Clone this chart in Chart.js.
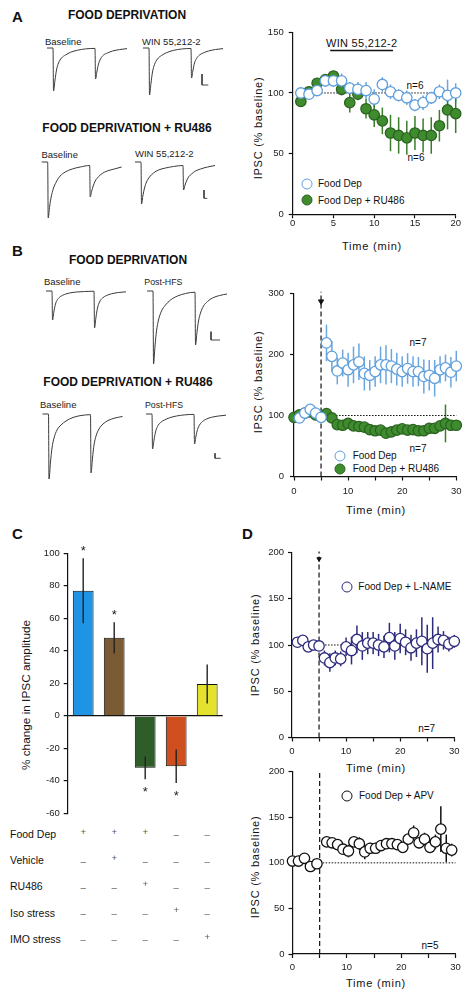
<!DOCTYPE html>
<html lang="en">
<head>
<meta charset="UTF-8">
<meta name="viewport" content="width=device-width, initial-scale=1.0">
<title>IPSC plasticity after food deprivation</title>
<script src="https://cdn.jsdelivr.net/npm/chart.js"></script>
<style>
    body { margin: 0; background: #fff; color: #111; font-family: "Liberation Sans", Arial, Helvetica, sans-serif; }
    #fig { position: relative; width: 474px; height: 999px; overflow: hidden; }
    #fig canvas { position: absolute; }
    .t { position: absolute; white-space: nowrap; line-height: 1; font-size: 10px; }
    .c { transform: translate(-50%, -50%); }
    .l { transform: translate(0, -50%); }
    .r { transform: translate(-50%, -50%) rotate(-90deg); font-size: 11px; letter-spacing: 0.75px; }
    .panel { font-size: 15px; font-weight: bold; }
    .head { font-size: 12px; font-weight: bold; }
    .sweep { font-size: 9.5px; color: #222; }
    .xt { font-size: 11px; letter-spacing: 0.8px; }
    .dot { position: absolute; width: 11px; height: 11px; box-sizing: border-box; border: 1.3px solid; border-radius: 50%; background: #fff; transform: translate(-50%, -50%); }
    .row { font-size: 10.5px; }
    .sign { font-size: 9.5px; color: #555; }
</style>
</head>
<body>
<div id="fig">
    <!-- panel A -->
    <div class="t panel l" style="left:12px;top:16px">A</div>
    <div class="t head c" style="left:127px;top:15px">FOOD DEPRIVATION</div>
    <div class="t sweep l" style="left:45px;top:42px">Baseline</div>
    <div class="t sweep l" style="left:142px;top:41.5px">WIN 55,212-2</div>
    <div class="t head c" style="left:127px;top:128px">FOOD DEPRIVATION + RU486</div>
    <div class="t sweep l" style="left:41.5px;top:155px">Baseline</div>
    <div class="t sweep l" style="left:135px;top:154px">WIN 55,212-2</div>

    <div class="t c" style="left:361.7px;top:42.7px;font-size:11px;letter-spacing:0.3px">WIN 55,212-2</div>
    <div class="t c" style="left:415px;top:86px">n=6</div>
    <div class="t c" style="left:416px;top:158px">n=6</div>
    <span class="dot" style="left:306.7px;top:183.7px;border-color:#5f9fdc"></span>
    <span class="dot" style="left:306.7px;top:200px;border-color:#2b6320;background:#3f8c2f"></span>
    <div class="t l" style="left:318px;top:184px">Food Dep</div>
    <div class="t l" style="left:318px;top:200.5px">Food Dep + RU486</div>
    <div class="t xt c" style="left:372px;top:246px">Time (min)</div>
    <div class="t r" style="left:257.7px;top:128px">IPSC (% baseline)</div>

    <!-- panel B -->
    <div class="t panel l" style="left:12px;top:250px">B</div>
    <div class="t head c" style="left:128px;top:260px">FOOD DEPRIVATION</div>
    <div class="t sweep l" style="left:44px;top:282.3px">Baseline</div>
    <div class="t sweep l" style="left:144.3px;top:282.3px;font-size:8.8px">Post-HFS</div>
    <div class="t head c" style="left:128px;top:381.7px">FOOD DEPRIVATION + RU486</div>
    <div class="t sweep l" style="left:40px;top:405px">Baseline</div>
    <div class="t sweep l" style="left:145px;top:405px;font-size:8.8px">Post-HFS</div>

    <div class="t c" style="left:418px;top:342.7px">n=7</div>
    <div class="t c" style="left:418px;top:449px">n=7</div>
    <span class="dot" style="left:340px;top:456px;border-color:#5f9fdc"></span>
    <span class="dot" style="left:340px;top:469.3px;border-color:#2b6320;background:#3f8c2f"></span>
    <div class="t l" style="left:352.7px;top:456px">Food Dep</div>
    <div class="t l" style="left:352.7px;top:469.3px">Food Dep + RU486</div>
    <div class="t xt c" style="left:376px;top:510px">Time (min)</div>
    <div class="t r" style="left:258.3px;top:382px">IPSC (% baseline)</div>

    <!-- panel C -->
    <div class="t panel l" style="left:12px;top:533px">C</div>
    <div class="t c" style="left:26.7px;top:695px;font-size:11.8px;transform:translate(-50%,-50%) rotate(-90deg)">% change in IPSC amplitude</div>

    <!-- panel D -->
    <div class="t panel l" style="left:242px;top:533px">D</div>
    <span class="dot" style="left:347.3px;top:586.7px;border-color:#2d2b7e"></span>
    <div class="t l" style="left:358.3px;top:586.7px">Food Dep + L-NAME</div>
    <div class="t c" style="left:426.7px;top:729.3px">n=7</div>
    <div class="t xt c" style="left:376px;top:768px">Time (min)</div>
    <div class="t r" style="left:255px;top:645px">IPSC (% baseline)</div>
    <span class="dot" style="left:347.3px;top:796px;border-color:#111"></span>
    <div class="t l" style="left:359px;top:796px">Food Dep + APV</div>
    <div class="t c" style="left:430px;top:946px">n=5</div>
    <div class="t xt c" style="left:376px;top:982.7px">Time (min)</div>
    <div class="t r" style="left:255px;top:867px">IPSC (% baseline)</div>

    <canvas id="trA1" width="194" height="62" style="left:36px;top:40px"></canvas>
    <canvas id="trA2" width="194" height="74" style="left:36px;top:154px"></canvas>
    <canvas id="trB1" width="194" height="89" style="left:36px;top:283px"></canvas>
    <canvas id="trB2" width="194" height="81" style="left:36px;top:406px"></canvas>
    <canvas id="chA" width="230" height="210" style="left:240px;top:20px"></canvas>
    <canvas id="chB" width="230" height="225" style="left:240px;top:280px"></canvas>
    <canvas id="chC" width="235" height="285" style="left:0px;top:540px"></canvas>
    <canvas id="chD1" width="230" height="225" style="left:240px;top:540px"></canvas>
    <canvas id="chD2" width="230" height="225" style="left:240px;top:760px"></canvas>
</div>

<script>
    // ---------- data ----------

    // example sweeps: time (ms from sweep start) and current (pA, baseline = 0)
    const sweepT = [0, 6, 6.5, 8, 9.5, 11.5, 14.5, 18.5, 23.5, 30.5, 38.5, 48, 48.5, 50, 51.5, 53.5, 56.5, 60.5, 65.5, 72.5, 80];
    const aFdBase = [0, 0, -43, -32, -22, -15, -10, -7, -4.3, -2.2, -0.9, -0.4, -31, -23, -16, -11, -7, -5, -3, -1.6, -0.6];
    const aFdWin = [0, 0, -47, -35, -24, -16.5, -11, -7.5, -4.7, -2.4, -1, -0.5, -30, -22, -15, -10.5, -7, -4.8, -3, -1.5, -0.6];
    const aRuBase = [0, 0, -56, -44, -35, -27, -20, -14, -10, -7, -5, -3.5, -35, -29, -24, -19, -15, -11.5, -9, -7, -5];
    const aRuWin = [0, 0, -42, -33, -26, -20, -15, -11, -8, -6, -4.5, -3.5, -28, -23, -19, -15, -12, -9, -7, -5, -3.5];
    const bFdBase = [0, 0, -29, -20, -13, -8.5, -5.5, -3.5, -2, -1, -0.5, -0.2, -37, -26, -17, -11, -7, -4.5, -2.8, -1.5, -0.8];
    const bFdHfs = [0, 0, -73, -55, -40, -29, -20, -14, -9, -5, -2.5, -1.2, -54, -41, -30, -22, -15, -10.5, -7, -4.5, -3];
    const bRuBase = [0, 0, -65, -48, -34, -24, -16, -11, -7, -3.5, -1.5, -0.7, -59, -44, -31, -22, -15, -10, -6.5, -4, -2.5];
    const bRuHfs = [0, 0, -35, -26, -18, -12.5, -8.5, -6, -3.8, -2, -0.9, -0.4, -30, -22, -15.5, -11, -7.5, -5, -3.3, -2, -1.2];

    // panel A: WIN 55,212-2 (min, % baseline)
    const timeA = [1, 2, 3, 4, 5, 6, 7, 8, 9, 10, 11, 12, 13, 14, 15, 16, 17, 18, 19, 20];
    const fdA = [100, 99, 102, 110, 110, 110, 104, 103, 102, 95, 107, 101, 98, 96, 90, 92, 96, 101, 98, 100];
    const fdAErr = [3, 4, 4, 5, 5, 6, 5, 6, 7, 8, 6, 6, 5, 6, 5, 6, 5, 6, 13, 8];
    const ruA = [93, 101, 108, 111, 114, 103, 92, 99, 87, 82, 77, 67, 65, 63, 67, 65, 65, 73, 86, 83];
    const ruAErr = [3, 4, 4, 4, 3, 5, 8, 5, 8, 10, 11, 15, 15, 14, 14, 14, 15, 13, 16, 16];
    const winA = [4.6, 12.3];

    // panel B: HFS at 5 min
    const timeBfd = [1, 2, 3, 4, 5, 6, 7, 8, 9, 10, 11, 12, 13, 14, 15, 16, 17, 18, 19, 20, 21, 22, 23, 24, 25, 26, 27, 28, 29, 30];
    const fdB = [96, 104, 110, 104, 97, 219, 197, 173, 186, 175, 183, 188, 169, 166, 172, 183, 183, 181, 176, 172, 177, 172, 172, 164, 166, 161, 175, 178, 171, 181];
    const fdBErr = [4, 4, 5, 4, 4, 30, 25, 22, 22, 28, 30, 30, 28, 25, 25, 30, 32, 28, 27, 25, 25, 25, 24, 28, 25, 30, 22, 22, 25, 25];
    const timeBru = [0, 1, 2, 3, 4, 5, 6, 7, 8, 9, 10, 11, 12, 13, 14, 15, 16, 17, 18, 19, 20, 21, 22, 23, 24, 25, 26, 27, 28, 29, 30];
    const ruB = [97, 101, 104, 106, 101, 98, 103, 96, 85, 84, 87, 83, 82, 81, 77, 75, 76, 71, 73, 76, 78, 76, 77, 75, 75, 79, 79, 83, 87, 84, 84];
    const ruBErr = [3, 3, 3, 3, 3, 3, 5, 5, 5, 6, 6, 6, 5, 6, 6, 7, 6, 6, 7, 8, 6, 7, 6, 7, 8, 7, 7, 8, 31, 8, 7];

    // panel C: % change in IPSC amplitude
    const groupsC = ['Food Dep', 'Food Dep + vehicle', 'Food Dep + RU486', 'Iso stress', 'IMO stress'];
    const changeC = [77, 48, -32, -31, 19.5];
    const changeCErr = [20, 9.6, 7, 10.3, 12];
    const sigC = [true, true, true, true, false];
    const factorsC = ['Food Dep', 'Vehicle', 'RU486', 'Iso stress', 'IMO stress'];
    const designC = [[1, 1, 1, 0, 0], [0, 1, 0, 0, 0], [0, 0, 1, 0, 0], [0, 0, 0, 1, 0], [0, 0, 0, 0, 1]];

    // panel D
    const timeD1 = [1, 2, 3, 4, 5, 6, 7, 8, 9, 10, 11, 12, 13, 14, 15, 16, 17, 18, 19, 20, 21, 22, 23, 24, 25, 26, 27, 28, 29, 30];
    const lnameD = [103, 105, 98, 100, 99, 86, 81, 86, 85, 98, 94, 106, 99, 102, 102, 100, 98, 108, 99, 107, 103, 97, 102, 104, 96, 102, 106, 105, 101, 104];
    const lnameDErr = [5, 5, 5, 5, 5, 8, 10, 8, 8, 10, 15, 15, 15, 12, 12, 12, 12, 16, 15, 16, 14, 14, 15, 26, 26, 28, 14, 10, 8, 7];
    const timeD2 = [0, 1.1, 2.2, 3.3, 4.5, 6.3, 7.3, 8.3, 9.3, 10.3, 11.3, 12.3, 13.3, 14.3, 15.3, 16.3, 17.3, 18.3, 19.3, 20.3, 21.3, 22.3, 23.3, 24.3, 25.3, 26.3, 27.3, 28.3, 29.3];
    const apvD = [102, 102, 105, 96, 99, 123, 122, 120, 115, 113, 123, 121, 112, 116, 116, 119, 121, 121, 120, 117, 126, 133, 122, 126, 117, 123, 137, 116, 114];
    const apvDErr = [4, 4, 4, 5, 4, 5, 5, 5, 5, 7, 5, 7, 8, 6, 6, 5, 5, 5, 6, 6, 5, 8, 6, 7, 6, 8, 25, 15, 7];

    const stimTime = 5;     // HFS onset (min)
    const baseline = 100;   // % baseline reference

    // ---------- styles ----------
    const OPEN_BLUE = { line: '#5f9fdc', fill: '#ffffff', err: '#6aa6df' };
    const GREEN = { line: '#2b6320', fill: '#3f8c2f', err: '#3a7d2a' };
    const PURPLE = { line: '#2d2b7e', fill: '#ffffff', err: '#2d2b7e' };
    const BLACK = { line: '#111111', fill: '#ffffff', err: '#111111' };

    Chart.defaults.font.family = '"Liberation Sans", Arial, Helvetica, sans-serif';
    Chart.defaults.font.size = 9.5;
    Chart.defaults.color = '#222';

    // error bars (and significance stars) drawn through the y scale
    const errorBars = {
        id: 'errorBars',
        beforeDatasetsDraw(chart, args, opts) { if (!opts.front) drawErrors(chart); },
        afterDatasetsDraw(chart, args, opts) { if (opts.front) drawErrors(chart); }
    };
    function drawErrors(chart) {
        const ctx = chart.ctx;
        const ys = chart.scales.y;
        chart.data.datasets.forEach((ds, di) => {
            if (!ds.err) return;
            const meta = chart.getDatasetMeta(di);
            ctx.save();
            ctx.strokeStyle = ds.errColor;
            ctx.lineWidth = ds.errWidth || 1.5;
            meta.data.forEach((el, i) => {
                const raw = ds.data[i];
                const v = typeof raw === 'object' ? raw.y : raw;
                const yTop = ys.getPixelForValue(v + ds.err[i]);
                const yBot = ys.getPixelForValue(v - ds.err[i]);
                ctx.beginPath();
                ctx.moveTo(el.x, yTop);
                ctx.lineTo(el.x, yBot);
                ctx.stroke();
                if (ds.stars && ds.stars[i]) {
                    ctx.fillStyle = '#222';
                    ctx.font = '13px "Liberation Sans", Arial, sans-serif';
                    ctx.textAlign = 'center';
                    ctx.textBaseline = 'alphabetic';
                    const cy = v >= 0 ? yTop - 10 : yBot + 10;
                    ctx.fillText('*', el.x, cy + 7);
                }
            });
            ctx.restore();
        });
    }
    Chart.register(errorBars);

    function pts(xs, ys) { return xs.map((x, i) => ({ x: x, y: ys[i] })); }

    function series(xs, ys, err, st, order) {
        return {
            data: pts(xs, ys), err: err, errColor: st.err, showLine: false, clip: false, order: order,
            pointRadius: 5.2, pointBorderWidth: 1.3, pointBackgroundColor: st.fill, pointBorderColor: st.line
        };
    }

    function refLine(points, dash, width, extra) {
        return Object.assign({
            data: points, showLine: true, pointRadius: 0, borderColor: '#111', borderWidth: width,
            borderDash: dash, clip: false, order: 10
        }, extra || {});
    }

    function axis(s, isX, box) {
        return {
            type: 'linear', min: s.min, max: s.max,
            border: { color: '#111', width: 1.2 },
            grid: { drawOnChartArea: false, drawTicks: true, tickLength: 4, tickColor: '#111', tickWidth: 1.2 },
            ticks: { stepSize: s.step, autoSkip: false, maxRotation: 0, color: '#222', padding: s.pad, callback: s.label || (v => v) },
            afterFit: isX ? (sc => { sc.height = box.bottom; }) : (sc => { sc.width = box.left; })
        };
    }

    function plot(id, box, xs, ys, datasets) {
        return new Chart(document.getElementById(id), {
            type: 'scatter',
            data: { datasets: datasets },
            options: {
                responsive: false, animation: false, events: [],
                layout: { padding: { left: 0, top: box.top, right: box.right, bottom: 0 } },
                plugins: { legend: { display: false }, tooltip: { enabled: false }, errorBars: { front: false } },
                scales: { x: axis(xs, true, box), y: axis(ys, false, box) }
            }
        });
    }

    const tensOnly = v => (v % 10 === 0 ? v : '');

    // ---------- example sweeps ----------
    function traceChart(id, yMax, yMin, sweeps, bar) {
        const cv = document.getElementById(id);
        const ds = sweeps.map(s => ({
            data: sweepT.map((t, k) => ({ x: s[0] + t, y: s[1][k] })),
            showLine: true, pointRadius: 0, borderColor: '#3a3a3a', borderWidth: 1,
            cubicInterpolationMode: 'monotone', clip: false
        }));
        // scale bar: [time, top, amplitude, duration]
        ds.push({
            data: [{ x: bar[0], y: bar[1] }, { x: bar[0], y: bar[1] - bar[2] }, { x: bar[0] + bar[3], y: bar[1] - bar[2] }],
            showLine: true, pointRadius: 0, borderColor: '#444', borderWidth: 1, clip: false
        });
        new Chart(cv, {
            type: 'scatter',
            data: { datasets: ds },
            options: {
                responsive: false, animation: false, events: [],
                layout: { padding: 0 },
                plugins: { legend: { display: false }, tooltip: { enabled: false } },
                scales: { x: { display: false, min: 0, max: cv.width }, y: { display: false, min: yMin, max: yMax } }
            }
        });
    }
    traceChart('trA1', 8, -54, [[11, aFdBase], [107, aFdWin]], [166, -26, 11, 6.3]);
    traceChart('trA2', 8, -66, [[5.7, aRuBase], [99, aRuWin]], [168, -28, 8.3, 3.3]);
    traceChart('trB1', 8, -81, [[10, bFdBase], [111, bFdHfs]], [175, -40.7, 8.3, 9]);
    traceChart('trB2', 8, -73, [[6.5, bRuBase], [110, bRuHfs]], [179, -39.3, 5, 5.7]);

    // ---------- A ----------
    plot('chA', { left: 52.7, top: 12.3, right: 14.3, bottom: 15.7 },
        { min: 0, max: 20, step: 5, pad: -1 },
        { min: 0, max: 150, step: 50, pad: 5 },
        [
            series(timeA, fdA, fdAErr, OPEN_BLUE, 1),
            series(timeA, ruA, ruAErr, GREEN, 2),
            refLine([{ x: 3.5, y: baseline }, { x: 17.5, y: baseline }], [1.5, 1.5], 1),
            refLine([{ x: winA[0], y: 135 }, { x: winA[1], y: 135 }], [], 1.6)
        ]);

    // ---------- B ----------
    plot('chB', { left: 54, top: 13.5, right: 13.7, bottom: 28.5 },
        { min: 0, max: 30, step: 5, pad: 5, label: tensOnly },
        { min: 0, max: 300, step: 100, pad: 6 },
        [
            series(timeBfd, fdB, fdBErr, OPEN_BLUE, 1),
            series(timeBru, ruB, ruBErr, GREEN, 2),
            refLine([{ x: stimTime, y: baseline }, { x: 30, y: baseline }], [1.5, 1.5], 1),
            refLine([{ x: stimTime, y: 0 }, { x: stimTime, y: 303 }], [5, 3], 1.2),
            refLine([{ x: stimTime, y: 287 }], [], 1, { showLine: false, pointRadius: 3, pointStyle: 'triangle', rotation: 180, pointBackgroundColor: '#111', pointBorderColor: '#111' })
        ]);

    // ---------- D ----------
    plot('chD1', { left: 52, top: 12.5, right: 15.7, bottom: 27.5 },
        { min: 0, max: 30, step: 5, pad: 4, label: tensOnly },
        { min: 0, max: 200, step: 50, pad: 4 },
        [
            series(timeD1, lnameD, lnameDErr, PURPLE, 1),
            refLine([{ x: stimTime, y: baseline }, { x: 30, y: baseline }], [1.5, 1.5], 1),
            refLine([{ x: stimTime, y: 0 }, { x: stimTime, y: 201 }], [5, 3], 1.2),
            refLine([{ x: stimTime, y: 193 }], [], 1, { showLine: false, pointRadius: 2.5, pointStyle: 'triangle', rotation: 180, pointBackgroundColor: '#111', pointBorderColor: '#111' })
        ]);

    plot('chD2', { left: 52.5, top: 11.7, right: 14.5, bottom: 31 },
        { min: 0, max: 30, step: 5, pad: 4, label: tensOnly },
        { min: 0, max: 200, step: 50, pad: 4 },
        [
            series(timeD2, apvD, apvDErr, BLACK, 1),
            refLine([{ x: stimTime, y: baseline }, { x: 30, y: baseline }], [1.5, 1.5], 1),
            refLine([{ x: stimTime, y: 0 }, { x: stimTime, y: 202 }], [5, 3], 1.2)
        ]);

    // ---------- C ----------
    const chartC = new Chart(document.getElementById('chC'), {
        type: 'bar',
        data: {
            labels: groupsC,
            datasets: [{
                data: changeC,
                err: changeCErr, errColor: '#222', errWidth: 1.4, stars: sigC,
                backgroundColor: ['#1f94e4', '#7a5b34', '#2f5d2a', '#cf4f1f', '#e5e22f'],
                borderColor: '#111', borderWidth: 1,
                barPercentage: 0.67, categoryPercentage: 1
            }]
        },
        options: {
            responsive: false, animation: false, events: [],
            layout: { padding: { left: 0, top: 13.3, right: 12.3, bottom: 11.7 } },
            plugins: { legend: { display: false }, tooltip: { enabled: false }, errorBars: { front: true } },
            scales: {
                x: { display: false },
                y: {
                    min: -60, max: 100,
                    border: { color: '#111', width: 1.2 },
                    grid: {
                        drawOnChartArea: true, tickLength: 4, tickColor: '#111', tickWidth: 1.2, lineWidth: 1.2,
                        color: c => (c.tick && c.tick.value === 0 ? '#111' : 'rgba(0,0,0,0)')
                    },
                    ticks: { stepSize: 20, color: '#222', padding: 4 },
                    afterFit: sc => { sc.width = 67.7; }
                }
            }
        }
    });

    // treatment table under panel C, columns aligned to the bars
    const fig = document.getElementById('fig');
    const barsC = chartC.getDatasetMeta(0).data;
    factorsC.forEach((name, r) => {
        const y = 834 + 26.2 * r;
        const lab = document.createElement('div');
        lab.className = 't row l';
        lab.style.left = '10px';
        lab.style.top = y + 'px';
        lab.textContent = name;
        fig.appendChild(lab);
        designC[r].forEach((on, k) => {
            const s = document.createElement('div');
            s.className = 't sign c';
            s.style.left = barsC[k].x + 'px';
            s.style.top = (on ? y - 2.3 : y + 1.3) + 'px';
            s.textContent = on ? '+' : '\u2013';
            fig.appendChild(s);
        });
    });
</script>
</body>
</html>
